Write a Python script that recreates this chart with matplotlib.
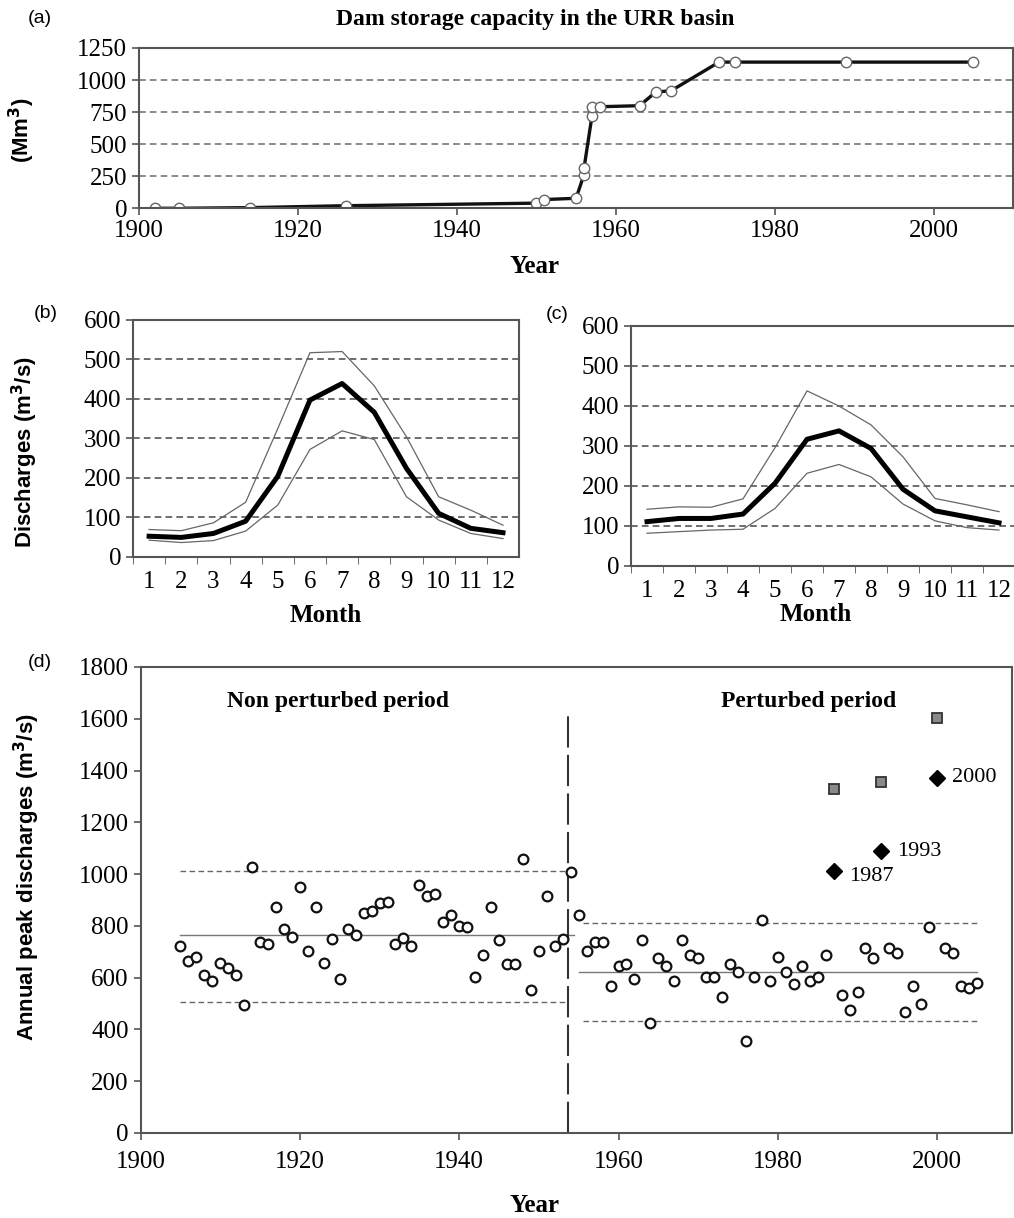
import numpy as np
import matplotlib.pyplot as plt

# (a) dam storage capacity
cap_years = [1902, 1905, 1914, 1926, 1950, 1951, 1955, 1956, 1956, 1957, 1957, 1958,
             1963, 1965, 1967, 1973, 1975, 1989, 2005]
cap_vals = [0, 0, 5, 20, 40, 68, 78, 262, 312, 718, 790, 792,
            800, 905, 918, 1140, 1140, 1140, 1140]

# (b), (c) monthly discharges: mean and envelope
months = list(range(1, 13))
b_mean = [52, 49, 59, 90, 204, 397, 439, 366, 224, 110, 72, 61]
b_high = [69, 66, 86, 138, 325, 517, 520, 433, 304, 152, 118, 80]
b_low = [42, 36, 41, 65, 131, 272, 319, 297, 152, 93, 59, 46]
c_mean = [110, 118, 118, 129, 206, 316, 337, 293, 191, 137, 122, 107]
c_high = [141, 147, 146, 167, 295, 437, 399, 352, 272, 168, 152, 135]
c_low = [81, 85, 89, 91, 143, 231, 253, 222, 154, 112, 95, 89]

# (d) annual peak discharges
np_years = list(range(1905, 1955))
np_peaks = [722, 665, 681, 609, 587, 658, 637, 609, 496, 1027,
            736, 730, 872, 787, 758, 950, 702, 872, 658, 751,
            595, 787, 765, 851, 857, 887, 893, 730, 752, 722,
            957, 914, 922, 815, 843, 801, 794, 603, 688, 872,
            744, 651, 651, 1057, 552, 702, 914, 722, 751, 1008]
p_years = [y for y in range(1955, 2006) if y not in (1987, 1993, 2000)]
p_peaks = [843, 703, 737, 737, 568, 645, 651, 595, 747, 425,
           675, 645, 587, 747, 688, 675, 603, 603, 525, 651,
           623, 355, 603, 823, 587, 681, 623, 574, 645, 587,
           603, 688,
           532, 474, 545, 716, 675,
           716, 695, 467, 568, 497, 796,
           716, 695, 568, 560, 580]
flood_years = [1987, 1993, 2000]
flood_obs = [1012, 1089, 1372]
flood_sq = [1330, 1356, 1604]
np_stats = (763, 1013, 505)   # mean, upper, lower
p_stats = (622, 812, 433)
split_year = 1953.6

SERIF = 'Liberation Serif'
SANS = 'Liberation Sans'
TICK = 18
XMID = 535 / 1014   # labels are centred on the page, not on the axes

fig = plt.figure(figsize=(10.14, 12.18), dpi=100)


def style(ax):
    for s in ax.spines.values():
        s.set_color('#555555')
        s.set_linewidth(1.5)
    ax.tick_params(direction='out', length=5, width=1.2, color='#555555',
                   labelsize=TICK)
    for lab in ax.get_xticklabels() + ax.get_yticklabels():
        lab.set_fontfamily(SERIF)


# ---- (a)
ax = fig.add_axes([0.1371, 0.829, 0.862, 0.1316])
for g in [250, 500, 750, 1000]:
    ax.axhline(g, color='#777777', ls=(0, (4, 2.5)), lw=1.2, zorder=0)
ax.plot(cap_years, cap_vals, color='#111111', lw=2.4, marker='o', ms=7.5,
        mfc='white', mec='#666666', mew=1.0)
ax.set_xlim(1900, 2010)
ax.set_ylim(0, 1250)
ax.set_xticks([1900, 1920, 1940, 1960, 1980, 2000])
ax.set_yticks([0, 250, 500, 750, 1000, 1250])
style(ax)
ax.set_ylabel('(Mm$^\\mathbf{3}$)', fontfamily=SANS, fontweight='bold', fontsize=16)
ax.yaxis.set_label_coords(-0.117, 0.49)
fig.text(XMID, 1 - 266 / 1218, 'Year', ha='center', va='center',
         fontfamily=SERIF, fontweight='bold', fontsize=18)
fig.text(XMID, 1 - 19 / 1218, 'Dam storage capacity in the URR basin',
         ha='center', va='center', fontfamily=SERIF, fontweight='bold', fontsize=17)
fig.text(0.027, 0.985, '(a)', fontfamily=SANS, fontsize=14, va='center')


def monthly(ax, mean, high, low, pad):
    for g in [100, 200, 300, 400, 500]:
        ax.axhline(g, color='#555555', ls=(0, (4, 2.5)), lw=1.2, zorder=0)
    ax.plot(months, high, color='#666666', lw=0.9)
    ax.plot(months, low, color='#666666', lw=0.9)
    ax.plot(months, mean, color='black', lw=3.6)
    ax.set_xlim(0.5, 12.5)
    ax.set_ylim(0, 600)
    ax.set_xticks(months)
    ax.set_xticks(np.arange(0.5, 12.5, 1), minor=True)
    ax.set_yticks(range(0, 700, 100))
    style(ax)
    ax.tick_params(axis='x', which='major', length=0, pad=10)
    ax.tick_params(axis='x', which='minor', direction='out', length=5,
                   color='#555555')
    ax.set_xlabel('Month', fontfamily=SERIF, fontweight='bold', fontsize=18,
                  labelpad=pad)


# ---- (b)
ax = fig.add_axes([0.1312, 0.5429, 0.3807, 0.1944])
monthly(ax, b_mean, b_high, b_low, 8)
ax.set_ylabel('Discharges (m$^\\mathbf{3}$/s)', fontfamily=SANS, fontweight='bold',
              fontsize=16)
ax.yaxis.set_label_coords(-0.24, 0.44)
fig.text(0.033, 0.743, '(b)', fontfamily=SANS, fontsize=14, va='center')

# ---- (c)
ax = fig.add_axes([0.6223, 0.5356, 0.3787, 0.197])
monthly(ax, c_mean, c_high, c_low, 1)
ax.xaxis.label.set_position((0.48, 0))
fig.text(0.538, 0.742, '(c)', fontfamily=SANS, fontsize=14, va='center')

# ---- (d)
ax = fig.add_axes([0.1386, 0.0698, 0.8595, 0.3826])
ax.plot(np_years, np_peaks, ls='none', marker='o', ms=7, mfc='white',
        mec='#111111', mew=1.6, zorder=3)
ax.plot(p_years, p_peaks, ls='none', marker='o', ms=7, mfc='white',
        mec='#111111', mew=1.6, zorder=3)
ax.plot(flood_years, flood_sq, ls='none', marker='s', ms=7.5, mfc='#8a8a8a',
        mec='#333333', mew=1.3, zorder=3)
ax.plot(flood_years, flood_obs, ls='none', marker='D', ms=8.5, mfc='black',
        mec='black', zorder=3)
for yr, v in zip(flood_years, flood_obs):
    dy = -4 if yr == 1987 else 0
    ax.annotate(str(yr), (yr, v), xytext=(11, dy), textcoords='offset points',
                va='center', ha='left', fontfamily=SERIF, fontsize=16)

x0, x1 = np_years[0], split_year + 0.8
ax.plot([x0, x1], [np_stats[0]] * 2, color='#777777', lw=1.0)
for v in np_stats[1:]:
    ax.plot([x0, split_year], [v] * 2, color='#666666', lw=1.0, ls=(0, (4, 2.5)))
x0, x1 = p_years[0] + 0.5, p_years[-1]
ax.plot([x0 - 0.5, x1], [p_stats[0]] * 2, color='#777777', lw=1.0)
for v in p_stats[1:]:
    ax.plot([x0, x1], [v] * 2, color='#666666', lw=1.0, ls=(0, (4, 2.5)))
ax.plot([split_year, split_year], [0, 1630], color='#333333', lw=1.5,
        ls=(0, (15, 3.5)))

ax.text(1924.8, 1665, 'Non perturbed period', ha='center', va='center',
        fontfamily=SERIF, fontweight='bold', fontsize=17)
ax.text(1983.8, 1665, 'Perturbed period', ha='center', va='center',
        fontfamily=SERIF, fontweight='bold', fontsize=17)
ax.set_xlim(1900, 2009.4)
ax.set_ylim(0, 1800)
ax.set_xticks([1900, 1920, 1940, 1960, 1980, 2000])
ax.set_yticks(range(0, 2000, 200))
style(ax)
ax.tick_params(axis='x', pad=8)
ax.set_ylabel('Annual peak discharges (m$^\\mathbf{3}$/s)', fontfamily=SANS,
              fontweight='bold', fontsize=16)
ax.yaxis.set_label_coords(-0.113, 0.55)
fig.text(XMID, 1 - 1205 / 1218, 'Year', ha='center', va='center',
         fontfamily=SERIF, fontweight='bold', fontsize=18)
fig.text(0.027, 0.456, '(d)', fontfamily=SANS, fontsize=14, va='center')

fig.savefig('out.png', dpi=100)
